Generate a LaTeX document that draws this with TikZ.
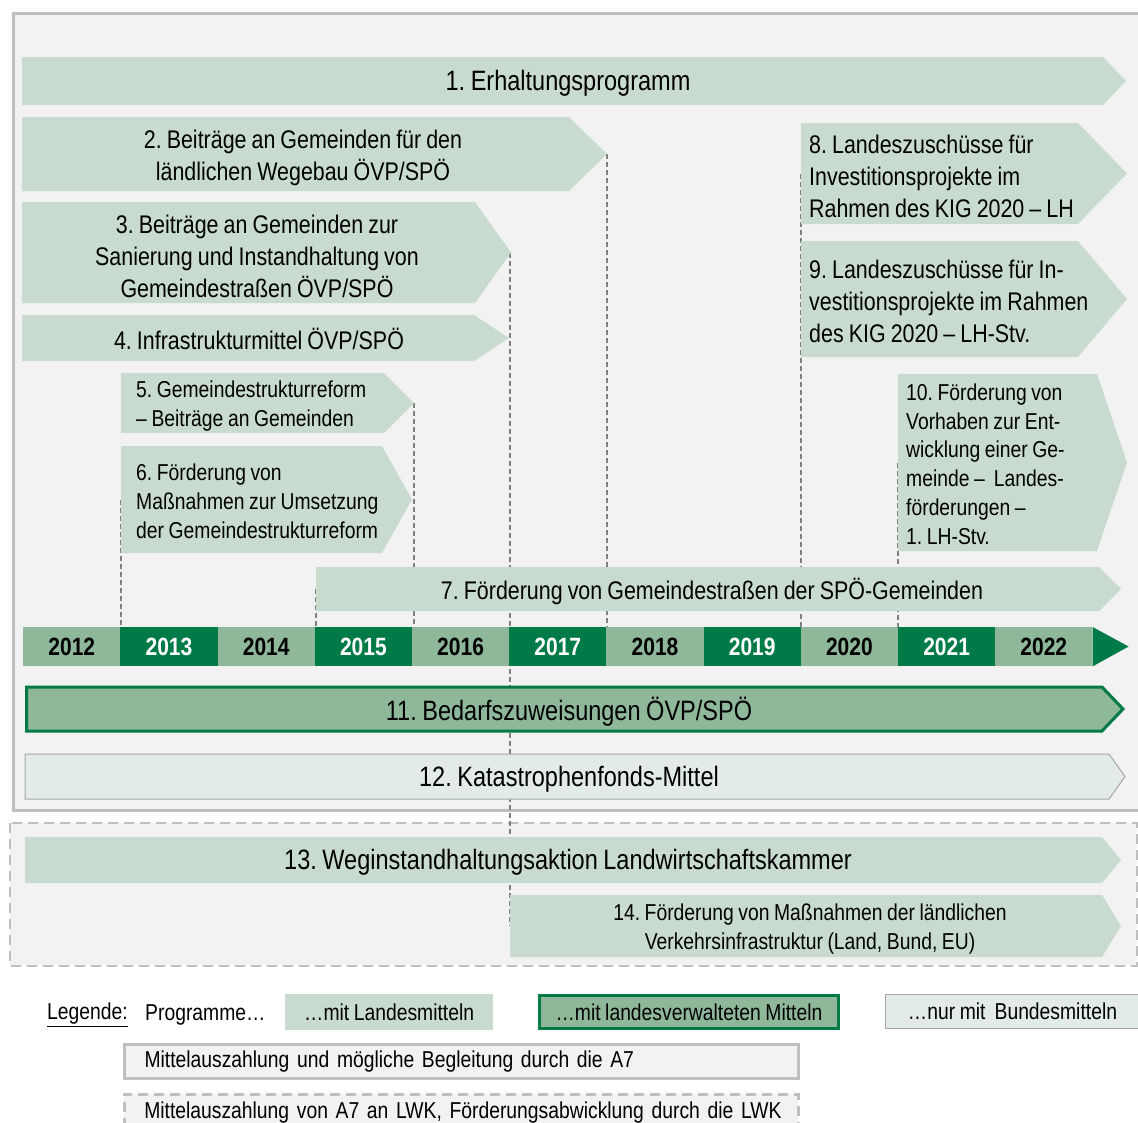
\documentclass[tikz,border=0pt]{standalone}
\usepackage{fontspec}
\setmainfont{Liberation Sans}[FakeStretch=0.84,WordSpace=0.85]
\frenchspacing
\usetikzlibrary{backgrounds}
\definecolor{panelgray}{HTML}{F2F2F2}
\definecolor{framegray}{HTML}{BFBFBF}
\definecolor{guidegray}{HTML}{808080}
\definecolor{progsage}{HTML}{C9DBCF}
\definecolor{yearsage}{HTML}{8FB89A}
\definecolor{yeargreen}{HTML}{007A47}
\definecolor{bundpale}{HTML}{E2EBE5}
\definecolor{bundedge}{HTML}{A6A6A6}
\tikzset{
  prog/.style={fill=progsage},
  prog land/.style={fill=yearsage,draw=yeargreen,line width=3pt},
  prog bund/.style={fill=bundpale,draw=bundedge,line width=1pt},
  big label/.style={inner sep=0pt,align=center,font=\fontsize{28}{33}\selectfont},
  mid label/.style={inner sep=0pt,align=center,font=\fontsize{25.5}{32}\selectfont},
  left label/.style={inner sep=0pt,align=left,anchor=west,font=\fontsize{25.5}{32}\selectfont},
  small label/.style={inner sep=0pt,align=left,anchor=west,font=\fontsize{23}{28.8}\selectfont},
  year/.style={anchor=north west,minimum width=97.2pt,minimum height=39pt,inner sep=0pt,
    font=\fontsize{25}{30}\selectfont\bfseries},
  year 0/.style={year,fill=yearsage,text=black},
  year 1/.style={year,fill=yeargreen,text=white},
  guide/.style={draw=guidegray,line width=1.2pt,dash pattern=on 5pt off 3pt},
  panel/.style={fill=panelgray,draw=framegray,line width=3pt},
  panel lwk/.style={fill=panelgray,draw=framegray,line width=2.5pt,dash pattern=on 10pt off 6pt},
  legend box/.style={anchor=north west,inner sep=0pt,font=\fontsize{23}{28}\selectfont}
}
\newcommand{\chevron}[7][prog]{%
  \path[#1] (#3,#6) -- (#4,#6) -- (#5,{(#6+#7)/2}) -- (#4,#7) -- (#3,#7) -- cycle;
  \coordinate (#2w) at (#3,{(#6+#7)/2});
  \coordinate (#2e) at (#5,{(#6+#7)/2});}

\begin{document}
\begin{tikzpicture}[x=1pt,y=-1pt]
  \useasboundingbox (0,0) rectangle (1138,1122);
  \begin{scope}[on background layer]
    \fill[white] (0,0) rectangle (1138,1122);
    \path[panel] (13.5,13.5) rectangle (1150,810);
    \path[panel lwk] (10,823) rectangle (1137,966);
  \end{scope}

  % programmes
  \chevron{p1}{22}{1103}{1126}{57}{105}
  \chevron{p2}{22}{569}{607}{117}{191}
  \chevron{p3}{22}{475}{511}{202}{303}
  \chevron{p4}{22}{474}{509}{315}{361}
  \chevron{p5}{121}{384}{414}{373}{433}
  \chevron{p6}{121}{382}{412}{446}{553}
  \chevron{p7}{316}{1099}{1121}{567}{611}
  \chevron{p8}{801}{1078}{1127}{123}{224}
  \chevron{p9}{801}{1078}{1127}{241}{357}
  \chevron{p10}{898}{1097}{1127}{374}{551}
  \chevron[prog land]{p11}{26.5}{1102}{1123}{687}{731}
  \chevron[prog bund]{p12}{25}{1109}{1125}{754}{799}
  \chevron{p13}{25}{1102}{1121}{837}{883}
  \chevron{p14}{510}{1102}{1121}{895}{957}

  \node[big label] (t1) at (568,83) {1. Erhaltungsprogramm};
  \node[mid label] (t2) at (303,158) {2. Beiträge an Gemeinden für den\\ländlichen Wegebau ÖVP/SPÖ};
  \node[mid label] (t3) at (257,256) {3. Beiträge an Gemeinden zur\\Sanierung und Instandhaltung von\\Gemeindestraßen ÖVP/SPÖ};
  \node[mid label] (t4) at (259,339) {4. Infrastrukturmittel ÖVP/SPÖ};
  \node[small label] (t5) at (136,406) {5. Gemeindestrukturreform\\– Beiträge an Gemeinden};
  \node[small label] (t6) at (136,501) {6. Förderung von\\Maßnahmen zur Umsetzung\\der Gemeindestrukturreform};
  \node[mid label] (t7) at (712,591) {7. Förderung von Gemeindestraßen der SPÖ-Gemeinden};
  \node[left label] (t8) at (809,176) {8. Landeszuschüsse für\\Investitionsprojekte im\\Rahmen des KIG 2020 – LH};
  \node[left label] (t9) at (809,301) {9. Landeszuschüsse für In-\\vestitionsprojekte im Rahmen\\des KIG 2020 – LH-Stv.};
  \node[small label] (t10) at (906,464) {10. Förderung von\\Vorhaben zur Ent-\\wicklung einer Ge-\\meinde – \ Landes-\\förderungen –\\1. LH-Stv.};
  \node[big label] (t11) at (569,712) {11. Bedarfszuweisungen ÖVP/SPÖ};
  \node[big label] (t12) at (569,779) {12. Katastrophenfonds-Mittel};
  \node[big label] (t13) at (568,862) {13. Weginstandhaltungsaktion Landwirtschaftskammer};
  \node[small label,anchor=center,align=center] (t14) at (810,929) {14. Förderung von Maßnahmen der ländlichen\\Verkehrsinfrastruktur (Land, Bund, EU)};

  % timeline
  \foreach \yr [count=\i from 0] in {2012,...,2022}{
    \pgfmathtruncatemacro\yp{mod(\i,2)}
    \node[year \yp] (y\yr) at ({23+97.2*\i},627) {\yr};
  }
  \fill[yeargreen] (y2022.north east) -- ++(36,19.5) -- (y2022.south east) -- cycle;

  \begin{scope}[on background layer]
    \draw[guide] (p6w) -- (p6w |- y2012.north);
    \draw[guide] (p5e) -- (p5e |- y2012.north);
    \draw[guide] (p7w) -- (p7w |- y2012.north);
    \draw[guide] (p14w |- p3e) -- (p14w);
    \draw[guide] (p2e) -- (p2e |- y2012.north);
    \draw[guide] (p8w) -- (p8w |- y2012.north);
    \draw[guide] (p10w) -- (p10w |- y2012.north);
  \end{scope}

  % legend
  \node[legend box,anchor=west] (lgd) at (47,1015) {\underline{Legende:}};
  \node[legend box,anchor=west] (lgp) at (145,1015) {Programme…};
  \node[legend box,fill=progsage,minimum width=208pt,minimum height=36pt] (lg1) at (285,994) {…mit Landesmitteln};
  \node[legend box,fill=yearsage,draw=yeargreen,line width=3pt,minimum width=299pt,minimum height=33pt] (lg2) at (538,994) {…mit landesverwalteten Mitteln};
  \node[legend box,fill=bundpale,draw=bundedge,line width=1pt,minimum width=254pt,minimum height=34pt] (lg3) at (885,994) {…nur mit \ Bundesmitteln};
  \node[legend box,panel,minimum height=34pt,text width=634pt,align=left,inner xsep=20pt] (lg4) at (123,1043) {\mbox{Mittelauszahlung und mögliche Begleitung durch die A7}};
  \node[legend box,panel lwk,minimum height=36pt,text width=634pt,align=left,inner xsep=20pt] (lg5) at (123,1093) {\mbox{Mittelauszahlung von A7 an LWK, Förderungsabwicklung durch die LWK}};
\end{tikzpicture}
\end{document}
